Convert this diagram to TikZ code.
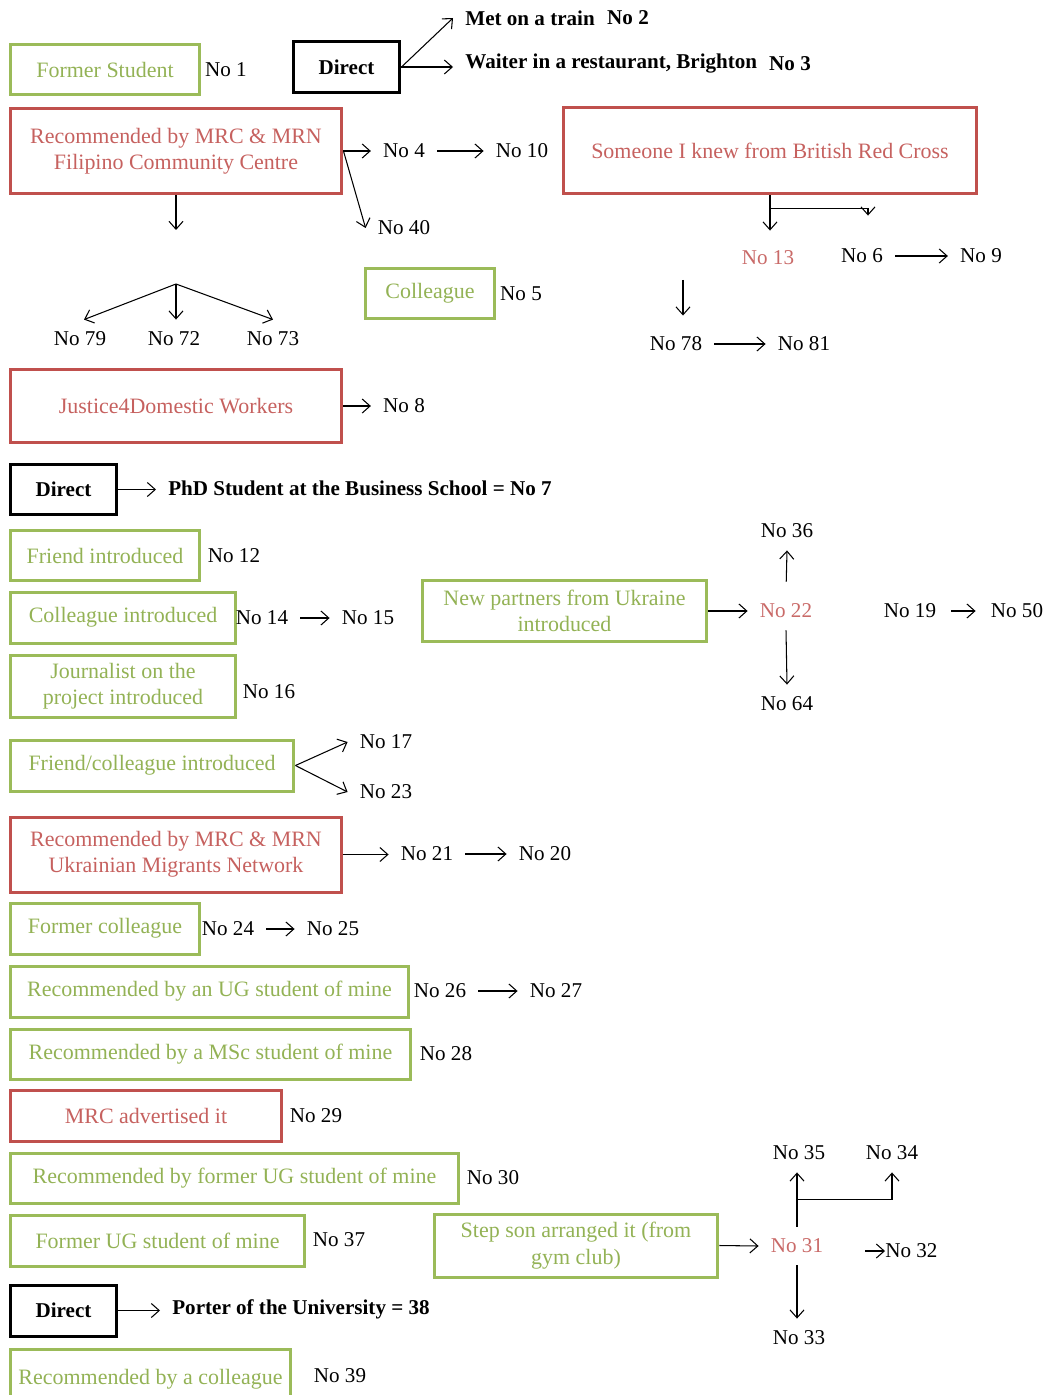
\documentclass[tikz,border=0pt]{standalone}
\usepackage{fontspec}
\setmainfont{Liberation Serif}
\usetikzlibrary{arrows.meta,positioning,calc}
\definecolor{leaf}{HTML}{9BBB59}
\definecolor{brick}{HTML}{C0504D}

\begin{document}
\begin{tikzpicture}[x=0.02cm,y=-0.02cm,font=\fontsize{12}{15}\selectfont,
  box/.style={rectangle,line width=0.06cm,align=center,inner sep=2pt,minimum height=1.02cm,
    font=\fontsize{12.5}{15}\selectfont},
  gbox/.style={box,draw=leaf,text=leaf!95!black},
  rbox/.style={box,draw=brick,text=brick!90!white},
  kbox/.style={box,draw=black,font=\fontsize{12}{15}\selectfont\bfseries,minimum width=2.14cm},
  num/.style={inner sep=0.24cm},
  rnum/.style={num,text=brick!85!white},
  bnum/.style={num,font=\fontsize{12}{15}\selectfont\bfseries},
  arr/.style={-{Straight Barb[length=4.5pt,width=8pt]},line width=0.6pt}]
\useasboundingbox (0,0) rectangle (1048,1395);
\clip (0,0) rectangle (1048,1395);

% top block
\node[gbox,minimum width=3.8cm] (fstud) at (105,69.5) {Former Student};
\node[num] (n1) at (226,70) {No 1};
\node[kbox,minimum height=1.04cm] (dir1) at (346.5,67) {Direct};
\node[bnum,anchor=west] (train) at (453,18) {Met on a train};
\node[bnum] (n2) at (628,18) {No 2};
\node[bnum,anchor=west] (waiter) at (453,64) {Waiter in a restaurant, Brighton};
\node[bnum] (n3) at (790,64) {No 3};
\draw[arr] (dir1.east) -- (train.west);
\draw[arr] (dir1.east) -- (dir1.east -| waiter.west);

\node[rbox,minimum width=6.64cm,minimum height=1.72cm] (filip) at (176,151)
  {Recommended by MRC \& MRN\\Filipino Community Centre};
\node[num] (n4) at (404,151) {No 4};
\node[num] (n10) at (522,151) {No 10};
\node[num] (n40) at (404,228) {No 40};
\draw[arr] (filip.east) -- (n4.west);
\draw[arr] (n4.east) -- (n10.west);
\draw[arr] (filip.east) -- (n40.west);
\coordinate (filipdown) at (176,230);
\draw[arr] (filip.south) -- (filipdown);

\coordinate (fork) at (176,284);
\node[num] (n79) at (80,339) {No 79};
\node[num] (n72) at (174,339) {No 72};
\node[num] (n73) at (273,339) {No 73};
\draw[arr] (fork) -- ([xshift=0.08cm]n79.north);
\draw[arr] (fork) -- (fork |- n72.north);
\draw[arr] (fork) -- (n73.north);

\node[gbox,minimum width=2.6cm] (colg) at (430,293.5) {Colleague};
\node[num] (n5) at (521,294) {No 5};

% red cross
\node[rbox,minimum width=8.28cm,minimum height=1.74cm] (brc) at (770,150.5)
  {Someone I knew from British Red Cross};
\node[rnum] (n13) at (768,258) {No 13};
\node[num] (n6) at (862,256) {No 6};
\node[num] (n9) at (981,256) {No 9};
\draw[arr,shorten >=0.16cm] (brc.south) -- (brc.south |- n13.north);
\coordinate (brcfork) at ($(brc.south)+(0,13)$);
\draw[arr,shorten >=0.42cm] (brcfork) -| ([xshift=0.12cm]n6.north);
\draw[arr] (n6.east) -- (n9.west);
\coordinate (n13down) at (683,280);
\node[num] (n78) at (676,344) {No 78};
\node[num] (n81) at (804,344) {No 81};
\draw[arr,shorten >=0.18cm] (n13down) -- (n13down |- n78.north);
\draw[arr] (n78.east) -- (n81.west);

\node[rbox,minimum width=6.64cm,minimum height=1.48cm] (j4dw) at (176,406) {Justice4Domestic Workers};
\node[num] (n8) at (404,406) {No 8};
\draw[arr] (j4dw.east) -- (j4dw.east -| n8.west);

\node[kbox] (dir2) at (63.5,489.5) {Direct};
\node[bnum,anchor=west] (phd) at (156,488) {PhD Student at the Business School = No 7};
\draw[arr] (dir2.east) -- (dir2.east -| phd.west);

% middle block
\node[gbox,minimum width=3.8cm] (friend) at (105,555.5) {Friend introduced};
\node[num] (n12) at (234,556) {No 12};
\node[gbox,minimum width=4.52cm] (colint) at (123,617.5) {Colleague introduced};
\node[num] (n14) at (262,618) {No 14};
\node[num] (n15) at (368,618) {No 15};
\draw[arr] (n14.east) -- (n15.west);
\node[gbox,minimum width=4.52cm,minimum height=1.24cm] (journ) at (123,686)
  {Journalist on the\\project introduced};
\node[num] (n16) at (269,692) {No 16};

\node[gbox,minimum width=5.7cm,minimum height=1.24cm] (ukr) at (564.5,611)
  {New partners from Ukraine\\introduced};
\node[rnum] (n22) at (786,611) {No 22};
\node[num] (n36) at (787,531) {No 36};
\node[num] (n64) at (787,704) {No 64};
\draw[arr] (ukr.east) -- (n22.west);
\draw[arr,shorten <=0.2cm] (n22.north) -- (n36.south);
\draw[arr] (n22.south) -- (n64.north);
\node[num] (n19) at (910,611) {No 19};
\node[num] (n50) at (1017,611) {No 50};
\draw[arr,shorten <=0.06cm,shorten >=0.06cm] (n19.east) -- (n50.west);

\node[gbox,minimum width=5.68cm] (fcol) at (152,765.5) {Friend/colleague introduced};
\node[num] (n17) at (386,742) {No 17};
\node[num] (n23) at (386,792) {No 23};
\draw[arr] (fcol.east) -- (n17.west);
\draw[arr] (fcol.east) -- (n23.west);

\node[rbox,minimum width=6.64cm,minimum height=1.5cm] (ukrmig) at (176,854.5)
  {Recommended by MRC \& MRN\\Ukrainian Migrants Network};
\node[num] (n21) at (427,854) {No 21};
\node[num] (n20) at (545,854) {No 20};
\draw[arr] (ukrmig.east) -- (ukrmig.east -| n21.west);
\draw[arr] (n21.east) -- (n20.west);

% lower block
\node[gbox,minimum width=3.8cm] (formcol) at (105,928.5) {Former colleague};
\node[num] (n24) at (228,929) {No 24};
\node[num] (n25) at (333,929) {No 25};
\draw[arr] (n24.east) -- (n25.west);

\node[gbox,minimum width=7.98cm] (ugstud) at (209.5,991.5) {Recommended by an UG student of mine};
\node[num] (n26) at (440,991) {No 26};
\node[num] (n27) at (556,991) {No 27};
\draw[arr] (n26.east) -- (n27.west);

\node[gbox,minimum width=8.02cm,minimum height=1cm] (msc) at (210.5,1054) {Recommended by a MSc student of mine};
\node[num] (n28) at (446,1054) {No 28};

\node[rbox,minimum width=5.44cm] (mrcad) at (146,1115.5) {MRC advertised it};
\node[num] (n29) at (316,1116) {No 29};

\node[gbox,minimum width=8.98cm,minimum height=1cm] (formug) at (234.5,1178) {Recommended by former UG student of mine};
\node[num] (n30) at (493,1178) {No 30};

\node[gbox,minimum width=5.9cm] (formug2) at (157.5,1240.5) {Former UG student of mine};
\node[num] (n37) at (339,1240) {No 37};

\node[gbox,minimum width=5.68cm,minimum height=1.26cm] (stepson) at (576,1245.5)
  {Step son arranged it (from\\gym club)};
\node[rnum] (n31) at (797,1246) {No 31};
\node[num] (n35) at (799,1153) {No 35};
\node[num] (n34) at (892,1153) {No 34};
\node[num] (n33) at (799,1338) {No 33};
\node[num,inner sep=0pt,anchor=west] (n32) at (885,1251) {No 32};
\draw[arr] (stepson.east) -- (n31.west);
\draw[arr] (n31.north) -- (n31.north |- n35.south);
\coordinate (fork31) at ($(n31.north)!0.5!(n31.north |- n35.south)$);
\draw[arr] (fork31) -| (n34.south);
\draw[arr,shorten <=0.6cm] (n31.east |- n32.west) -- (n32.west);
\draw[arr] (n31.south) -- (n31.south |- n33.north);

\node[kbox] (dir3) at (63.5,1310.5) {Direct};
\node[bnum,anchor=west] (porter) at (160,1309) {Porter of the University = 38};
\draw[arr] (dir3.east) -- (dir3.east -| porter.west);

\node[gbox,minimum width=5.62cm,minimum height=1.2cm] (colrec) at (150.5,1379) {Recommended by a colleague};
\node[num] (n39) at (340,1376) {No 39};
\end{tikzpicture}
\end{document}
